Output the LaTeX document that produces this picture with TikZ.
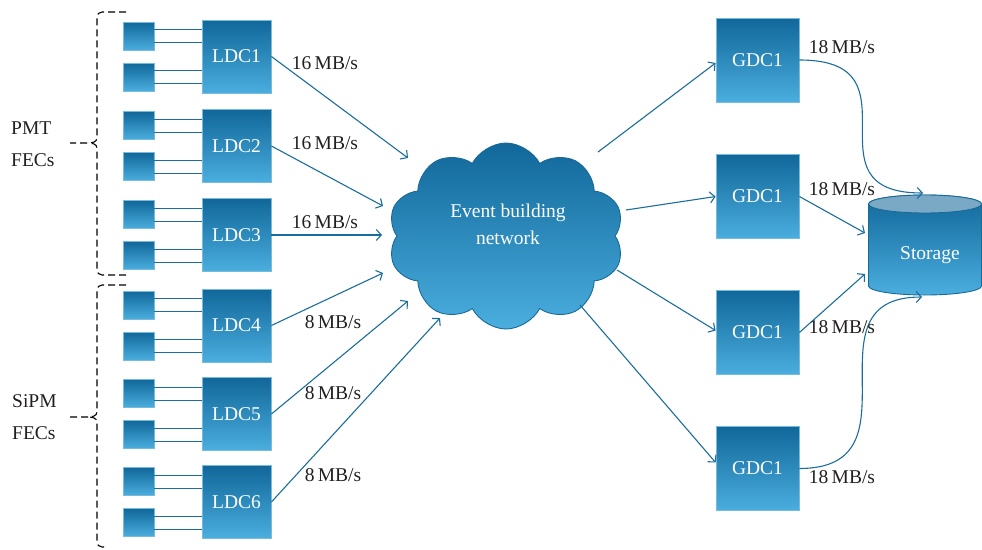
\documentclass[tikz,border=0pt]{standalone}
\usepackage{fontspec}
\setmainfont{Liberation Serif}
\usetikzlibrary{shapes.symbols,arrows.meta}
\definecolor{boxtop}{HTML}{11679A}
\definecolor{boxbot}{HTML}{4AAEDE}
\definecolor{boxline}{HTML}{78BCDD}
\definecolor{wire}{HTML}{1B6E9C}
\definecolor{labeltxt}{HTML}{231F20}
\definecolor{cloudline}{HTML}{1A6A98}
\definecolor{stortop}{HTML}{7AA9C6}
\begin{document}
\begin{tikzpicture}[x=1pt,y=-1pt,
  grad/.style={top color=boxtop, bottom color=boxbot, draw=boxline, line width=0.8pt},
  fec/.style={grad, minimum width=31pt, minimum height=28pt, inner sep=0pt},
  ldc/.style={grad, minimum width=69pt, minimum height=73pt, inner sep=0pt, text=white, font=\fontsize{19.5}{22}\selectfont},
  gdc/.style={grad, minimum width=83pt, minimum height=84pt, inner sep=0pt, text=white, font=\fontsize{19.5}{22}\selectfont},
  link/.style={draw=wire, line width=1pt},
  flow/.style={draw=wire, line width=1.1pt, -{Straight Barb[length=5pt,width=11pt]}},
  rate/.style={text=labeltxt, inner sep=0pt, font=\fontsize{19.5}{22}\selectfont},
  side/.style={text=labeltxt, inner sep=0pt, align=left, font=\fontsize{19.5}{32}\selectfont},
  bracket/.style={draw=black, line width=1.1pt, dash pattern=on 7pt off 4pt}
]
\useasboundingbox (0,0) rectangle (982,549);

% LDC groups
\foreach \i/\c in {1/56.5, 2/146, 3/235, 4/325.5, 5/414, 6/502}{
  \node[ldc] (ld\i) at (236.5,\c) {LDC\i};
  \node[fec] (fa\i) at (138.5,\c-20.5) {};
  \node[fec] (fb\i) at (138.5,\c+20.5) {};
  \draw[link] ([yshift=6.5pt]fa\i.east) -- ([yshift=6.5pt]fa\i.east -| ld\i.west);
  \draw[link] ([yshift=-6.5pt]fa\i.east) -- ([yshift=-6.5pt]fa\i.east -| ld\i.west);
  \draw[link] ([yshift=6.5pt]fb\i.east) -- ([yshift=6.5pt]fb\i.east -| ld\i.west);
  \draw[link] ([yshift=-6.5pt]fb\i.east) -- ([yshift=-6.5pt]fb\i.east -| ld\i.west);
}

% brackets
\draw[bracket] (126,12) -- (102,12) to[out=180,in=90] (97,17) -- (97,138) to[out=270,in=0] (88,143) -- (70,143);
\draw[bracket] (126,275) -- (102,275) to[out=180,in=270] (97,270) -- (97,148) to[out=90,in=0] (88,143);
\draw[bracket] (126,285) -- (102,285) to[out=180,in=90] (97,290) -- (97,412) to[out=270,in=0] (88,417) -- (70,417);
\draw[bracket] (104,547) -- (102,547) to[out=180,in=270] (97,542) -- (97,422) to[out=90,in=0] (88,417);
\node[side, anchor=west] (pmt) at (11,144) {PMT\\FECs};
\node[side, anchor=west] (sipm) at (12,417) {SiPM\\FECs};

% cloud
\node[cloud, cloud puffs=10, cloud puff arc=125, cloud ignores aspect,
      minimum width=236pt, minimum height=186pt,
      top color=boxtop, bottom color=boxbot, draw=cloudline, line width=0.9pt] (net) at (506,236) {};
\node[text=white, align=center, font=\fontsize{19.5}{27}\selectfont] (nettxt) at (508,224) {Event building\\network};

% inputs to cloud
\coordinate (t1) at (408,158);
\coordinate (t2) at (383,206);
\coordinate (t3) at (382,235);
\coordinate (t4) at (383,273);
\coordinate (t5) at (408,301);
\coordinate (t6) at (440,318);
\foreach \i in {1,...,6}{ \draw[flow] (ld\i.east) -- (t\i); }

\node[rate] (r1) at (325,63) {16\,MB/s};
\node[rate] (r2) at (325,143) {16\,MB/s};
\node[rate] (r3) at (325,222) {16\,MB/s};
\node[rate] (r4) at (333,322) {8\,MB/s};
\node[rate] (r5) at (333,393) {8\,MB/s};
\node[rate] (r6) at (333,475) {8\,MB/s};

% GDCs
\node[gdc] (g1) at (757.5,60) {GDC1};
\node[gdc] (g2) at (757.5,196.5) {GDC1};
\node[gdc] (g3) at (757.5,332.5) {GDC1};
\node[gdc] (g4) at (757.5,468.5) {GDC1};

\coordinate (s1) at (598,152);
\coordinate (s2) at (626,210);
\coordinate (s3) at (617,270);
\coordinate (s4) at (580,305);
\draw[flow] (s1) -- ([yshift=-3pt]g1.west);
\draw[flow] (s2) -- (g2.west);
\draw[flow] (s3) -- ([yshift=2pt]g3.west);
\draw[flow] (s4) -- ([yshift=6pt]g4.west);

% storage
\shade[top color=boxtop, bottom color=boxbot, draw=cloudline, line width=0.9pt]
  (868.5,204) -- (868.5,286) arc[start angle=180, end angle=360, x radius=56.5pt, y radius=9pt]
  -- (981.5,204) arc[start angle=0, end angle=180, x radius=56.5pt, y radius=9pt] -- cycle;
\filldraw[fill=stortop, draw=cloudline, line width=0.9pt] (925,204) ellipse[x radius=56.5pt, y radius=9pt];
\node[text=white, font=\fontsize{19.5}{22}\selectfont] (storage) at (930,255) {Storage};

\coordinate (st1) at (923,193);
\coordinate (st2) at (865,233);
\coordinate (st3) at (865,274);
\coordinate (st4) at (922,297);
\draw[flow] (g1.east) .. controls (925,60) and (801,193) .. (st1);
\draw[flow] (g2.east) -- (st2);
\draw[flow] (g3.east) -- (st3);
\draw[flow] (g4.east) .. controls (925,468.5) and (801,297) .. (st4);

\node[rate] (r7) at (842,47) {18\,MB/s};
\node[rate] (r8) at (842,189) {18\,MB/s};
\node[rate] (r9) at (842,327) {18\,MB/s};
\node[rate] (r10) at (842,477) {18\,MB/s};
\end{tikzpicture}
\end{document}
